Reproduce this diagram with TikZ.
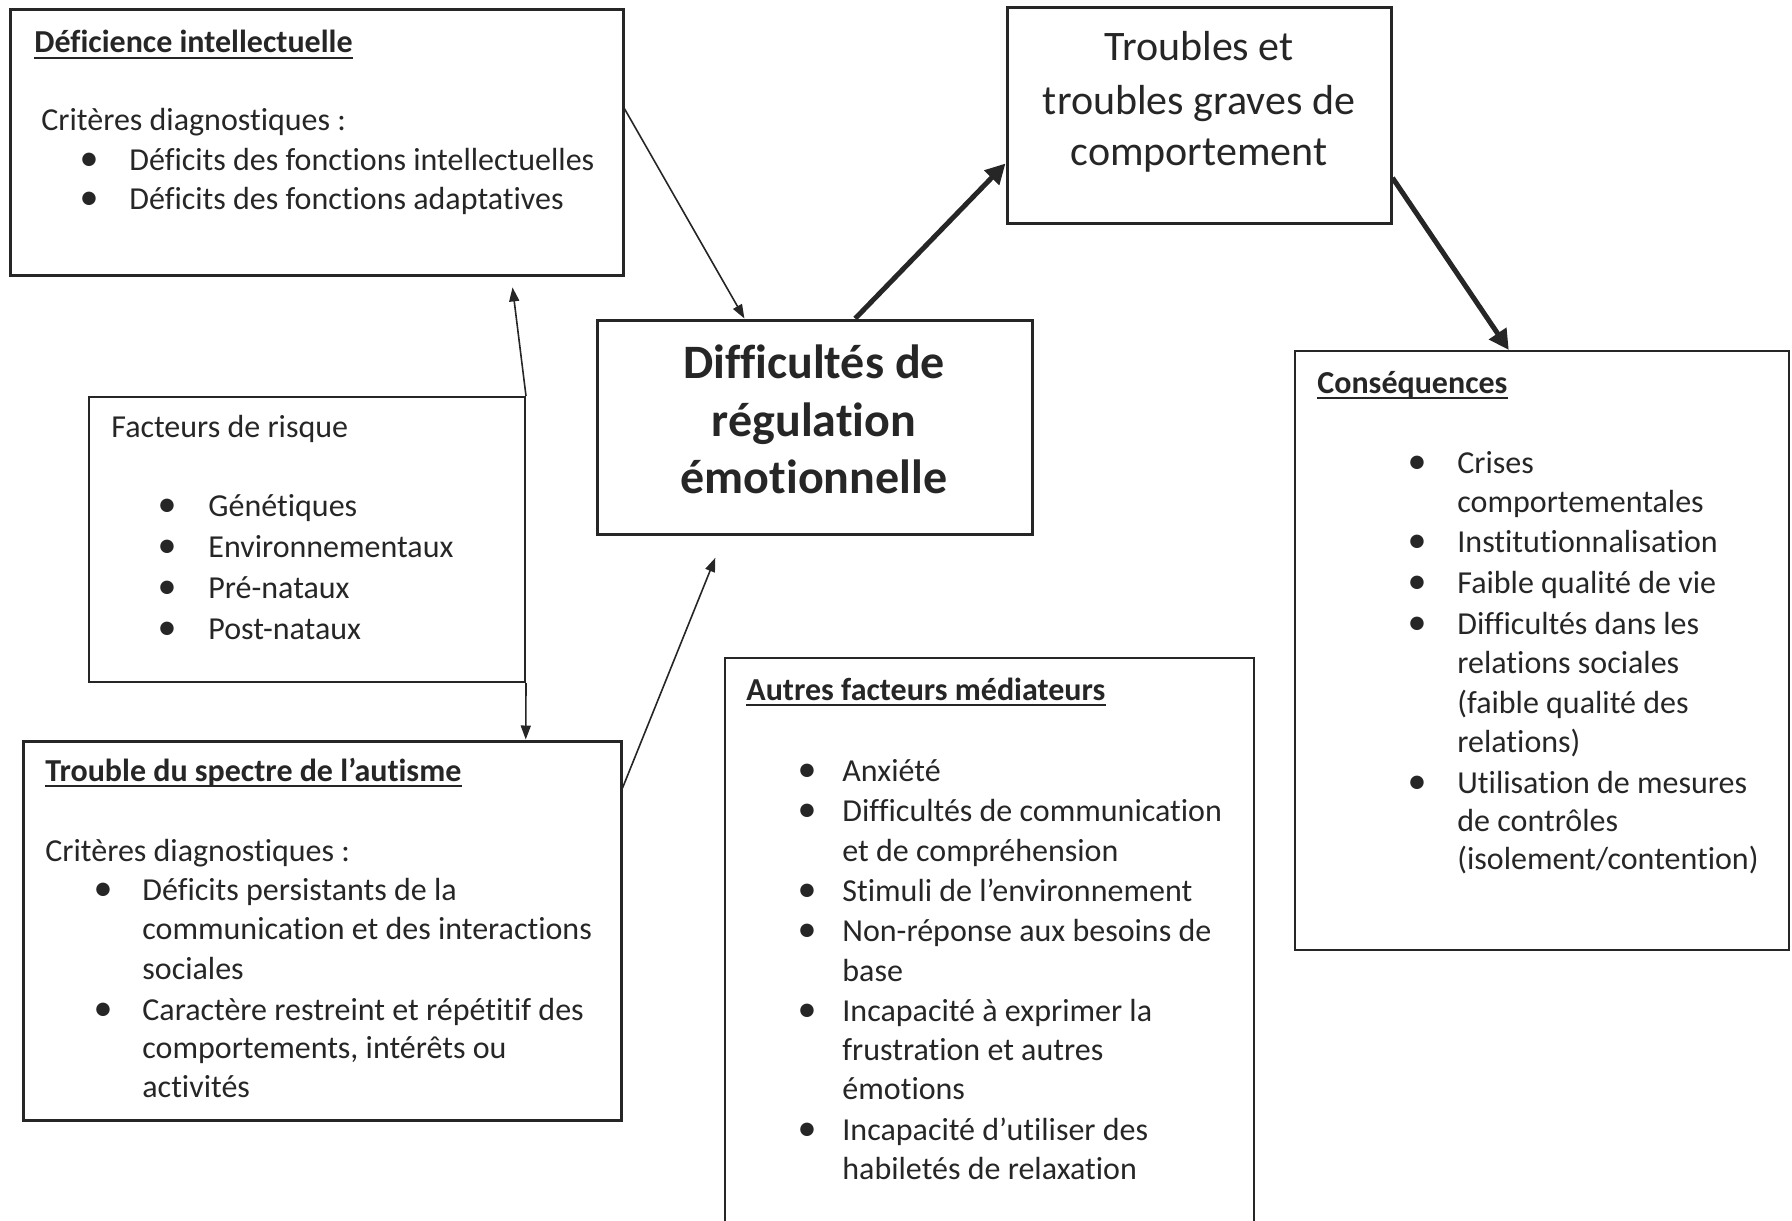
\documentclass[tikz,border=0pt]{standalone}
\usepackage{fontspec}
\setmainfont{Carlito}[Ligatures={NoCommon,NoRare,NoContextual},Contextuals=NoAlternate]
\usetikzlibrary{arrows.meta,calc,fit}
\definecolor{ink}{HTML}{262626}
\newcommand\bitem[5]{\node[bulx] (#1b) at (#2,#4) {•}; \node[txt] (#1) at (#3,#4) {#5};}
\newcommand\uline[1]{\draw[ink,line width=0.8pt] ([yshift=-2.6pt]#1.base west) -- ([yshift=-2.6pt]#1.base east);}
\begin{document}
\begin{tikzpicture}[x=0.5pt,y=-0.5pt,
  box/.style={draw=ink,line width=1.5pt,inner sep=0pt},
  lightbox/.style={draw=ink,line width=1pt,inner sep=0pt},
  txt/.style={inner sep=0pt,text=ink,font=\fontsize{16}{19}\selectfont,anchor=base west},
  ttl/.style={txt,font=\fontsize{16}{19}\selectfont\bfseries},
  bulx/.style={txt,anchor=base,font=\fontsize{19}{19}\selectfont},
  bigtxt/.style={inner sep=0pt,text=ink,font=\fontsize{21}{26}\selectfont,anchor=base},
  heavytxt/.style={inner sep=0pt,text=ink,font=\fontsize{24}{29}\selectfont\bfseries,anchor=base},
  arrthin/.style={draw=ink,line width=0.8pt,-{Triangle[length=7pt,width=5pt]}},
  arrheavy/.style={draw=ink,line width=2.5pt,-{Triangle[length=10pt,width=10pt]}},
]
\useasboundingbox (0,0) rectangle (1792,1220);

% boxes
\node[box,fit={(10,10)(623,275)}] (di) {};
\node[box,fit={(1007,8)(1391,223)}] (tr) {};
\node[box,fit={(597,320)(1032,534)}] (dr) {};
\node[lightbox,fit={(89,397)(525,682)}] (fr) {};
\node[box,fit={(23,741)(621,1120)}] (tsa) {};
\node[lightbox,fit={(725,658)(1254,1240)}] (af) {};
\node[lightbox,fit={(1295,351)(1789,950)}] (cq) {};

% Deficience intellectuelle
\node[ttl] (diT) at (34,53) {Déficience intellectuelle};
\uline{diT}
\node[txt] (diC) at (41,130) {Critères diagnostiques :};
\bitem{di1}{89}{129}{170}{Déficits des fonctions intellectuelles}
\bitem{di2}{89}{129}{209}{Déficits des fonctions adaptatives}

% Troubles
\node[bigtxt] (tr1) at (1199,61) {Troubles et};
\node[bigtxt] (tr2) at (1199,114) {troubles graves de};
\node[bigtxt] (tr3) at (1199,165) {comportement};

% Difficultes
\node[heavytxt] (dr1) at (814,378) {Difficultés de};
\node[heavytxt] (dr2) at (814,436) {régulation};
\node[heavytxt] (dr3) at (814,493) {émotionnelle};

% Facteurs de risque
\node[txt] (frT) at (111,437) {Facteurs de risque};
\bitem{fr1}{167}{208}{516}{Génétiques}
\bitem{fr2}{167}{208}{557}{Environnementaux}
\bitem{fr3}{167}{208}{598}{Pré-nataux}
\bitem{fr4}{167}{208}{639}{Post-nataux}

% TSA
\node[ttl] (tsaT) at (45,781) {Trouble du spectre de l’autisme};
\uline{tsaT}
\node[txt] (tsaC) at (45,861) {Critères diagnostiques :};
\bitem{ts1}{103}{142}{900}{Déficits persistants de la}
\node[txt] (ts1a) at (142,939) {communication et des interactions};
\node[txt] (ts1c) at (142,979) {sociales};
\bitem{ts2}{103}{142}{1020}{Caractère restreint et répétitif des}
\node[txt] (ts2a) at (142,1058) {comportements, intérêts ou};
\node[txt] (ts2c) at (142,1097) {activités};

% Autres facteurs
\node[ttl] (afT) at (746,700) {Autres facteurs médiateurs};
\uline{afT}
\bitem{af1}{807}{842}{781}{Anxiété}
\bitem{af2}{807}{842}{821}{Difficultés de communication}
\node[txt] (af2a) at (842,861) {et de compréhension};
\bitem{af3}{807}{842}{901}{Stimuli de l’environnement}
\bitem{af4}{807}{842}{941}{Non-réponse aux besoins de}
\node[txt] (af4a) at (842,981) {base};
\bitem{af5}{807}{842}{1021}{Incapacité à exprimer la}
\node[txt] (af5a) at (842,1060) {frustration et autres};
\node[txt] (af5c) at (842,1099) {émotions};
\bitem{af6}{807}{842}{1140}{Incapacité d’utiliser des}
\node[txt] (af6a) at (842,1179) {habiletés de relaxation};

% Consequences
\node[ttl] (cqT) at (1317,393) {Conséquences};
\uline{cqT}
\bitem{cq1}{1417}{1457}{473}{Crises}
\node[txt] (cq1a) at (1457,512) {comportementales};
\bitem{cq2}{1417}{1457}{552}{Institutionnalisation}
\bitem{cq3}{1417}{1457}{593}{Faible qualité de vie}
\bitem{cq4}{1417}{1457}{634}{Difficultés dans les}
\node[txt] (cq4a) at (1457,673) {relations sociales};
\node[txt] (cq4c) at (1457,713) {(faible qualité des};
\node[txt] (cq4d) at (1457,752) {relations)};
\bitem{cq5}{1417}{1457}{793}{Utilisation de mesures}
\node[txt] (cq5a) at (1457,831) {de contrôles};
\node[txt] (cq5c) at (1457,869) {(isolement/contention)};

% connectors
\draw[arrthin] ($(di.north east)!0.374!(di.south east)$) -- ($(dr.north west)!0.34!(dr.north east)$);
\draw[arrheavy] ($(dr.north west)!0.593!(dr.north east)$) -- ($(tr.north west)!0.72!(tr.south west)$);
\draw[arrheavy] ($(tr.north east)!0.786!(tr.south east)$) -- ($(cq.north west)!0.433!(cq.north east)$);
\draw[arrthin,shorten >=5.5pt] (fr.north east) -- ($(di.south west)!0.816!(di.south east)$);
\draw[arrthin] (fr.south east) -- ($(tsa.north west)!0.839!(tsa.north east)$);
\draw[arrthin,shorten >=12pt] ($(tsa.north east)!0.127!(tsa.south east)$) -- ($(dr.south west)!0.294!(dr.south east)$);
\end{tikzpicture}
\end{document}
